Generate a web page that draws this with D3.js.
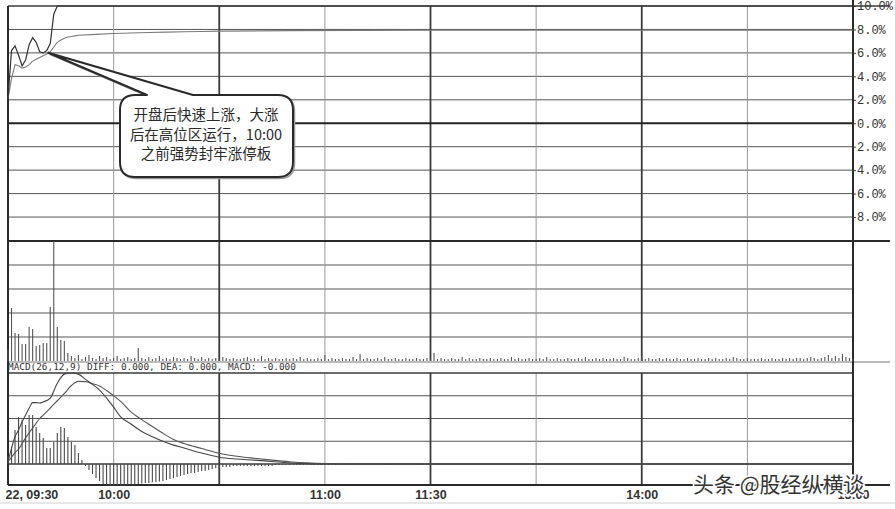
<!DOCTYPE html>
<html><head><meta charset="utf-8">
<script src="https://cdn.jsdelivr.net/npm/d3@7"></script>
<style>body{margin:0;background:#fff}svg{display:block}</style>
</head><body>
<svg id="c" width="895" height="509"></svg>
<script>
// ---------- DATA ----------
const timeTickMinutes = [0, 30, 90, 120, 180, 240];
const timeTickLabels = ["22, 09:30", "10:00", "11:00", "11:30", "14:00", "15:00"];
const thinGridMinutes = [30, 90, 150, 210];
const thickGridMinutes = [60, 120, 180];

const pctTicks = [10, 8, 6, 4, 2, 0, -2, -4, -6, -8];
const pctTickLabels = ["10.0%", "8.0%", "6.0%", "4.0%", "2.0%", "0.0%", "2.0%", "4.0%", "6.0%", "8.0%"];

const priceMinutes = [0,1,2,3,4,5,6,7,8,9,10,11,12,13,14,240];
const priceValues  = [2.1,6.2,6.6,5.8,4.9,5.4,6.7,7.3,6.9,6.1,6.0,6.2,6.8,9.3,10,10];

const avgMinutes = [0,1,2,3,4,5,6,7,8,9,10,11,12,13,14,15,16,17,18,19,20,25,30,35,40,45,50,55,60,80,100,120,150,180,210,240];
const avgValues  = [2.1,3.8,5.0,4.9,4.7,4.8,5.0,5.3,5.45,5.6,5.75,5.9,6.1,6.5,6.9,7.1,7.25,7.35,7.4,7.45,7.5,7.58,7.65,7.7,7.74,7.77,7.8,7.83,7.86,7.9,7.92,7.93,7.93,7.93,7.93,7.93];

const volumeValues = [
 12,53,28,27,17,17,34,32,15,16,18,18,54,120,34,21,20,8,5,3,
 6,2,4,6,3,2,5,3,4,2,3,5,2,3,4,2,3,13,3,2,
 4,2,3,5,2,3,2,4,3,2,3,2,5,3,2,4,2,3,2,3,
 2,4,3,2,3,2,2,3,4,2,3,2,5,2,3,2,3,2,2,3,
 2,3,2,4,2,3,2,2,3,2,6,2,3,2,2,3,2,2,4,2,
 7,2,3,2,2,3,2,4,2,2,3,2,2,3,2,2,3,2,2,3,
 2,8,2,3,2,2,3,2,2,4,2,3,2,2,3,2,2,3,2,2,
 3,2,2,4,2,3,2,2,3,2,2,3,2,4,2,2,3,2,2,3,
 2,2,3,2,4,2,2,3,2,3,2,2,3,2,2,4,3,2,2,3,
 4,2,3,2,2,3,2,3,2,2,3,2,2,3,2,2,3,2,2,3,
 2,3,2,2,3,2,4,3,2,2,3,2,2,2,3,2,2,3,2,2,
 3,2,3,2,3,3,2,3,4,3,2,3,4,6,3,5,3,7,4,3,2];

const macdMinutes = [0,1,2,3,4,5,6,7,8,9,10,12,14,16,18,20,22,24,26,28,30,32,35,38,41,44,47,50,55,60,65,70,75,80,85,90,100,120,240];
const diffValues  = [0.01,0.07,0.12,0.15,0.185,0.215,0.245,0.27,0.27,0.268,0.273,0.29,0.355,0.395,0.4,0.395,0.372,0.35,0.325,0.29,0.25,0.207,0.175,0.143,0.12,0.1,0.083,0.07,0.048,0.03,0.022,0.017,0.011,0.005,0.002,0,0,0,0];
const deaValues   = [0.01,0.03,0.05,0.065,0.09,0.115,0.137,0.158,0.18,0.2,0.215,0.246,0.278,0.31,0.345,0.363,0.362,0.353,0.343,0.323,0.3,0.275,0.228,0.195,0.165,0.135,0.108,0.09,0.068,0.047,0.034,0.025,0.017,0.01,0.005,0.002,0,0,0];

const macdHist = [
 0.035,0.075,0.15,0.207,0.193,0.171,0.215,0.215,0.163,0.136,0.114,0.07,0.07,0.097,0.136,0.163,0.158,0.119,0.097,0.084,0.048,0.018,
 -0.009,-0.026,-0.044,-0.062,-0.075,-0.088,-0.092,-0.097,-0.097,-0.097,-0.097,-0.097,-0.092,-0.092,-0.09,-0.088,-0.086,-0.084,-0.084,-0.08,
 -0.079,-0.077,-0.075,-0.07,-0.066,-0.062,-0.057,-0.053,-0.048,-0.044,-0.04,-0.04,-0.035,-0.031,-0.031,-0.026,-0.022,-0.018,-0.018,-0.013,
 -0.013,-0.013,-0.009,-0.009,-0.009,-0.009,-0.009,-0.009,-0.009,-0.009,-0.009,-0.009,-0.009,-0.009,
 -0.004,-0.004,-0.004,-0.004,-0.004,-0.004,-0.004,-0.004,-0.004,-0.004,-0.004,-0.004,-0.004,-0.004,-0.004,-0.004,-0.004,-0.004,-0.004,-0.004,
 -0.004,-0.004,-0.004,-0.004,-0.004,-0.004,-0.004,-0.004,-0.004,-0.004,-0.004,-0.004,-0.004,-0.004,-0.004,-0.004,-0.004,-0.004,-0.004,-0.004,
 -0.004,-0.004,-0.004,-0.004,-0.004];

const macdTicks = [0.1, 0.2, 0.3];
const volumeTicks = [24, 48, 72, 96];
const macdLabel = "MACD(26,12,9) DIFF: 0.000, DEA: 0.000, MACD: -0.000";
const calloutLines = ["开盘后快速上涨，大涨", "后在高位区运行，10:00", "之前强势封牢涨停板"];
const watermark = "头条 @股经纵横谈";

// ---------- LAYOUT ----------
const svg = d3.select("#c");
const L = 8, R = 853;
const x = d3.scaleLinear().domain([0, 240]).range([L, R]);
const yP = d3.scaleLinear().domain([-10, 10]).range([240.5, 6]);
const yV = d3.scaleLinear().domain([0, 120]).range([361, 241]);
const yM = d3.scaleLinear().domain([-0.0923, 0.4]).range([485, 373]);

const dark = "#3a3a3a", mid = "#555", light = "#9a9a9a";
const g = svg.append("g");

// horizontal grid lines
function hline(y, w, c, x2) {
  g.append("line").attr("x1", L).attr("x2", x2 || R).attr("y1", y).attr("y2", y)
   .attr("stroke", c).attr("stroke-width", w);
}
pctTicks.filter(v => v !== 0 && v !== 10).forEach(v => hline(yP(v), 1, mid));
volumeTicks.forEach(v => hline(yV(v), 1, mid));
macdTicks.forEach(v => hline(yM(v), 1, mid));

// vertical grid lines
const panels = [[yP(10), yV(0)], [yM(0.4), yM(-0.0923)]];
panels.forEach(([a, b]) => {
  thinGridMinutes.forEach(m => g.append("line").attr("x1", x(m)).attr("x2", x(m))
    .attr("y1", a).attr("y2", b).attr("stroke", light).attr("stroke-width", 1));
  thickGridMinutes.forEach(m => g.append("line").attr("x1", x(m)).attr("x2", x(m))
    .attr("y1", a).attr("y2", b).attr("stroke", dark).attr("stroke-width", 1.8));
});

// panel borders
hline(yP(10), 1.5, dark, 890);
hline(yP(0), 2, "#222");
hline(yV(120), 2, "#2a2a2a", 890);
hline(yV(0) + 1, 1, "#777", 890);
hline(yM(0.4), 1.5, dark);
hline(yM(0), 1.5, dark);
hline(yM(-0.0923), 2, "#2a2a2a", 890);
g.append("line").attr("x1", L).attr("x2", L).attr("y1", yP(10)).attr("y2", yM(-0.0923))
  .attr("stroke", "#2a2a2a").attr("stroke-width", 2);
g.append("line").attr("x1", R).attr("x2", R).attr("y1", 0).attr("y2", yM(-0.0923))
  .attr("stroke", "#2a2a2a").attr("stroke-width", 2);
g.append("line").attr("x1", 0).attr("x2", 895).attr("y1", 503).attr("y2", 503)
  .attr("stroke", "#cfcfcf").attr("stroke-width", 1);

// right percent axis
const rAxis = d3.axisRight(yP).tickValues(pctTicks).tickSize(3)
  .tickFormat((d, i) => pctTickLabels[i]);
const ra = svg.append("g").attr("transform", `translate(${R},0)`).call(rAxis);
ra.select(".domain").remove();
ra.selectAll("line").attr("stroke", dark);
ra.selectAll("text").attr("x", 4).attr("fill", "#333")
  .style("font-family", "'Liberation Mono','DejaVu Sans Mono',monospace").style("font-size", "12px");

// price & average lines
const line = d3.line().curve(d3.curveLinear);
svg.append("path")
  .attr("d", line(avgMinutes.map((m, i) => [x(m), yP(avgValues[i])])))
  .attr("fill", "none").attr("stroke", "#7a7a7a").attr("stroke-width", 1.1);
svg.append("path")
  .attr("d", line(priceMinutes.map((m, i) => [x(m), yP(priceValues[i])])))
  .attr("fill", "none").attr("stroke", "#333").attr("stroke-width", 1.2);

// volume bars
svg.append("g").selectAll("line").data(volumeValues).join("line")
  .attr("x1", (d, i) => x(i)).attr("x2", (d, i) => x(i))
  .attr("y1", yV(0)).attr("y2", d => yV(d))
  .attr("stroke", "#555").attr("stroke-width", 1.1);

// MACD histogram
svg.append("g").selectAll("line").data(macdHist).join("line")
  .attr("x1", (d, i) => x(i)).attr("x2", (d, i) => x(i))
  .attr("y1", yM(0)).attr("y2", d => yM(d))
  .attr("stroke", "#4a4a4a").attr("stroke-width", 1.1);

// DIFF & DEA
const curve = d3.line().curve(d3.curveMonotoneX);
svg.append("path").attr("d", curve(macdMinutes.map((m, i) => [x(m), yM(deaValues[i])])))
  .attr("fill", "none").attr("stroke", "#555").attr("stroke-width", 1.1);
svg.append("path").attr("d", curve(macdMinutes.map((m, i) => [x(m), yM(diffValues[i])])))
  .attr("fill", "none").attr("stroke", "#444").attr("stroke-width", 1.1);

// MACD label
svg.append("text").attr("x", 8).attr("y", 369.5).text(macdLabel)
  .attr("fill", "#333").style("font-family", "'DejaVu Sans Mono',monospace").style("font-size", "9.4px");

// time axis
const bAxis = d3.axisBottom(x).tickValues(timeTickMinutes).tickSize(0)
  .tickFormat((d, i) => timeTickLabels[i]);
const ba = svg.append("g").attr("transform", `translate(0,${yM(-0.0923)})`).call(bAxis);
ba.select(".domain").remove();
ba.selectAll("text").attr("y", 5).attr("dy", "0.75em").attr("fill", "#333")
  .style("font-family", "'Liberation Sans',Arial,sans-serif").style("font-size", "12.5px").style("font-weight", "bold")
  .attr("text-anchor", (d, i) => i === 0 ? "start" : "middle")
  .attr("x", (d, i) => i === 0 ? -3 : 0);

// callout bubble
const bx0 = 120, bx1 = 293, by0 = 95, by1 = 177, r = 15;
const tip = [x(12) - 2, yP(avgValues[12]) + 1];
const p = d3.path();
p.moveTo(bx0 + r, by0);
p.lineTo(147, by0);
p.lineTo(tip[0], tip[1]);
p.lineTo(193, by0);
p.lineTo(bx1 - r, by0);
p.quadraticCurveTo(bx1, by0, bx1, by0 + r);
p.lineTo(bx1, by1 - r);
p.quadraticCurveTo(bx1, by1, bx1 - r, by1);
p.lineTo(bx0 + r, by1);
p.quadraticCurveTo(bx0, by1, bx0, by1 - r);
p.lineTo(bx0, by0 + r);
p.quadraticCurveTo(bx0, by0, bx0 + r, by0);
p.closePath();
svg.append("path").attr("d", p.toString()).attr("transform", "translate(1.5,1.5)")
  .attr("fill", "none").attr("stroke", "#999").attr("stroke-width", 1.5);
svg.append("path").attr("d", p.toString()).attr("fill", "#fff")
  .attr("stroke", "#2a2a2a").attr("stroke-width", 2).attr("stroke-linejoin", "round");
svg.append("g").selectAll("text").data(calloutLines).join("text")
  .attr("x", 206).attr("y", (d, i) => 115 + i * 19.5).attr("dy", "0.35em")
  .attr("text-anchor", "middle").text(d => d)
  .attr("fill", "#2a2a2a").style("font-family", "'Noto Sans CJK SC',sans-serif").style("font-size", "14.5px");

// watermark
svg.append("text").attr("x", 693).attr("y", 492).text(watermark)
  .attr("fill", "#333").attr("stroke", "#fff").attr("stroke-width", 3).attr("paint-order", "stroke")
  .style("font-family", "'Noto Sans CJK SC',sans-serif").style("font-size", "21px");
</script>
</body></html>
